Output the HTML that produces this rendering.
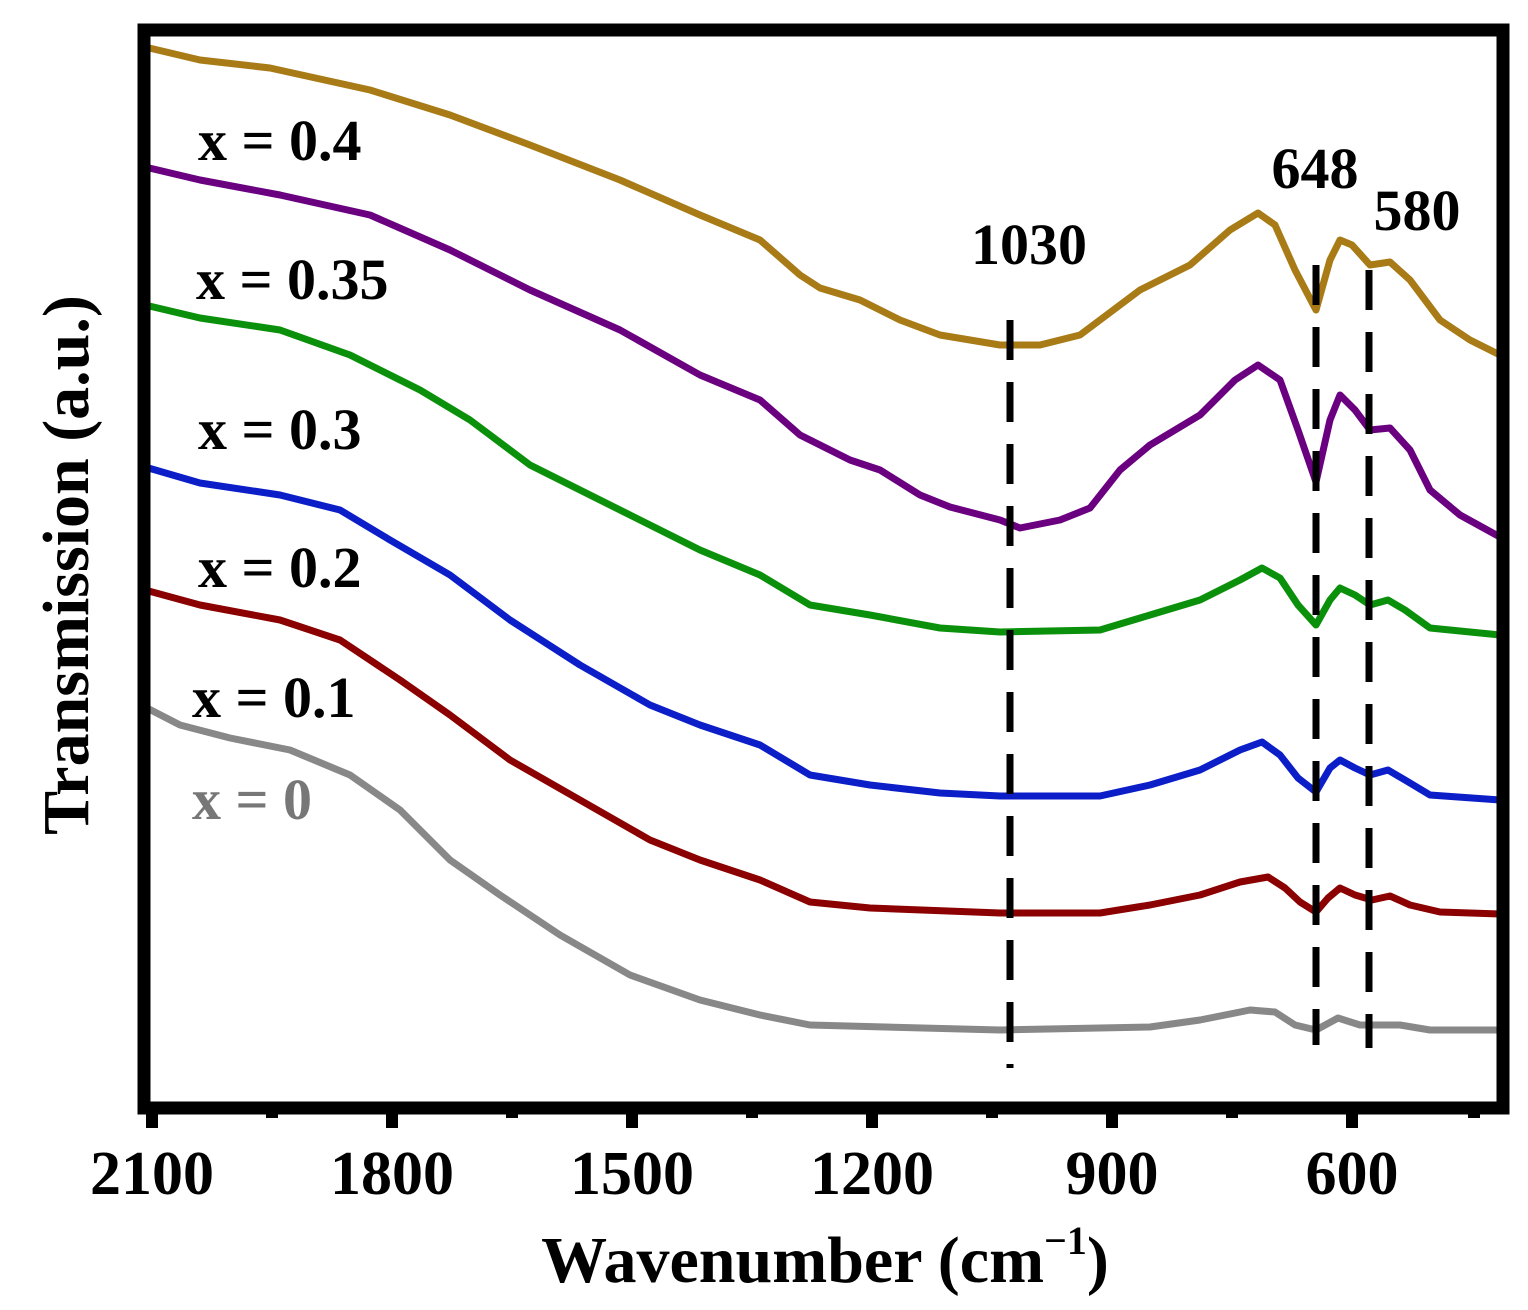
<!DOCTYPE html>
<html><head><meta charset="utf-8"><style>body{margin:0;background:#fff}svg{display:block}text{font-family:"Liberation Serif",serif;font-weight:bold}</style></head><body>
<svg width="1528" height="1310" viewBox="0 0 1528 1310" xmlns="http://www.w3.org/2000/svg">
<g fill="none" stroke-width="7" stroke-linejoin="round" stroke-linecap="round">
<polyline stroke="#a87b16" points="145,47 200,60 270,68 370,90 450,115 530,145 620,180 700,215 760,240 800,275 820,288 860,300 900,320 940,335 1000,345 1040,345 1080,335 1100,320 1140,290 1190,265 1230,230 1258,213 1275,225 1295,270 1316,310 1330,260 1340,240 1352,245 1370,265 1390,262 1410,280 1440,320 1470,340 1500,355"/>
<polyline stroke="#6a0080" points="145,167 200,180 280,195 370,215 450,250 530,290 620,330 700,375 760,400 800,435 850,460 880,470 920,495 950,507 1000,520 1020,528 1060,520 1090,508 1120,470 1150,445 1200,415 1235,380 1258,365 1280,380 1298,430 1316,482 1330,420 1340,395 1355,410 1370,430 1390,428 1410,450 1430,490 1460,515 1500,537"/>
<polyline stroke="#0b900b" points="145,305 200,318 280,330 350,355 420,390 470,420 530,465 620,510 700,550 760,575 810,605 870,615 940,628 1000,632 1100,630 1150,615 1200,600 1240,580 1262,568 1280,578 1298,605 1316,625 1330,600 1340,588 1355,595 1370,605 1388,600 1405,610 1430,628 1500,635"/>
<polyline stroke="#0b1ec8" points="145,467 200,483 280,495 340,510 390,540 450,575 510,620 580,665 650,705 700,725 760,745 810,775 870,785 940,793 1000,796 1100,796 1150,785 1200,770 1240,750 1262,742 1280,755 1298,778 1316,792 1330,768 1340,760 1355,768 1370,775 1388,770 1405,780 1430,795 1500,800"/>
<polyline stroke="#8b0000" points="145,590 200,605 280,620 340,640 400,680 450,715 510,760 580,800 650,840 700,860 760,880 810,902 870,908 1000,913 1100,913 1150,905 1200,895 1240,882 1268,877 1285,888 1300,902 1316,912 1328,898 1340,888 1355,895 1372,900 1390,896 1410,905 1440,912 1500,914"/>
<polyline stroke="#888" points="145,707 180,725 230,738 290,750 350,775 400,810 450,860 500,895 560,935 630,975 700,1000 760,1015 810,1025 1000,1030 1150,1027 1200,1020 1250,1010 1275,1012 1295,1025 1316,1030 1338,1018 1360,1025 1400,1025 1430,1030 1500,1030"/>
</g>
<g stroke="#000" stroke-width="7" stroke-dasharray="40,22">
<line x1="1010" y1="320" x2="1010" y2="1068"/>
<line x1="1316" y1="265" x2="1316" y2="1045"/>
<line x1="1369" y1="270" x2="1369" y2="1048"/>
</g>
<rect x="144" y="30" width="1359" height="1078" fill="none" stroke="#000" stroke-width="13"/>
<g stroke="#000" stroke-width="12">
<line x1="152" y1="1110" x2="152" y2="1128"/><line x1="392" y1="1110" x2="392" y2="1128"/><line x1="632" y1="1110" x2="632" y2="1128"/><line x1="872" y1="1110" x2="872" y2="1128"/><line x1="1112" y1="1110" x2="1112" y2="1128"/><line x1="1352" y1="1110" x2="1352" y2="1128"/>
<line x1="272" y1="1110" x2="272" y2="1118"/><line x1="512" y1="1110" x2="512" y2="1118"/><line x1="752" y1="1110" x2="752" y2="1118"/><line x1="992" y1="1110" x2="992" y2="1118"/><line x1="1232" y1="1110" x2="1232" y2="1118"/><line x1="1474" y1="1110" x2="1474" y2="1118"/>
</g>
<g font-size="62" text-anchor="middle">
<text x="152" y="1194">2100</text><text x="392" y="1194">1800</text><text x="632" y="1194">1500</text><text x="872" y="1194">1200</text><text x="1112" y="1194">900</text><text x="1352" y="1194">600</text>
</g>
<text x="825" y="1282" font-size="66" text-anchor="middle">Wavenumber (cm<tspan font-size="40" dy="-28">−1</tspan><tspan dy="28">)</tspan></text>
<text transform="translate(88,565) rotate(-90)" font-size="66" text-anchor="middle">Transmission (a.u.)</text>
<g font-size="58">
<text x="198" y="160">x = 0.4</text>
<text x="196" y="299">x = 0.35</text>
<text x="198" y="449">x = 0.3</text>
<text x="198" y="587">x = 0.2</text>
<text x="192" y="717">x = 0.1</text>
<text x="192" y="819" fill="#777">x = 0</text>
<text x="1029" y="264" text-anchor="middle">1030</text>
<text x="1315" y="188" text-anchor="middle">648</text>
<text x="1417" y="230" text-anchor="middle">580</text>
</g>
</svg>
</body></html>
